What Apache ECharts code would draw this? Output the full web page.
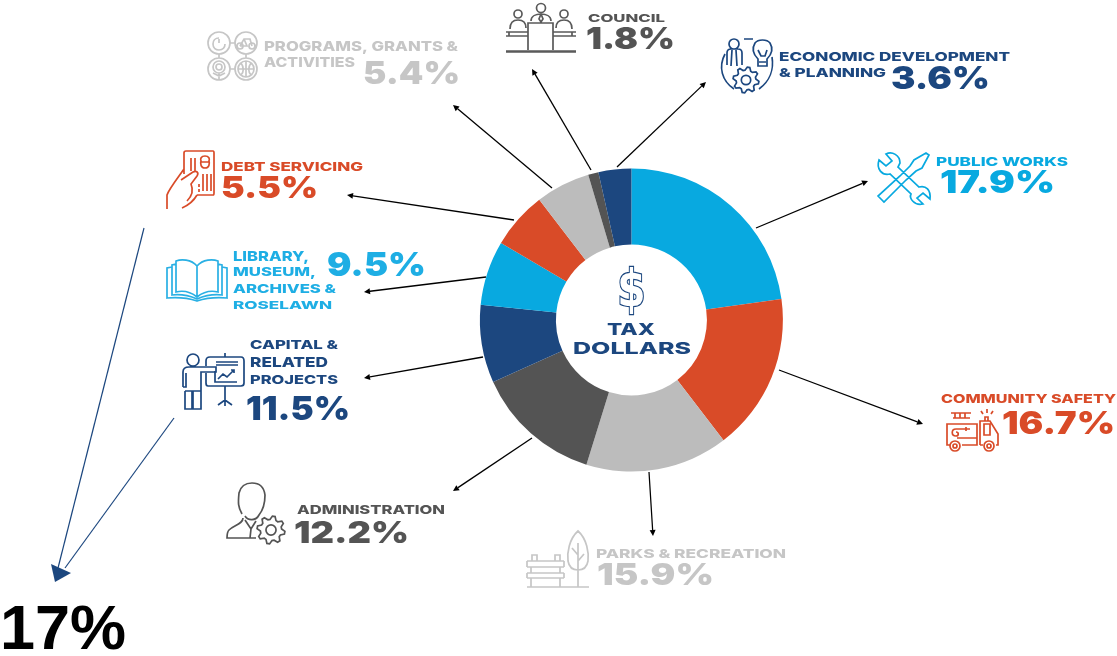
<!DOCTYPE html>
<html>
<head>
<meta charset="utf-8">
<title>Tax dollars</title>
<script src="https://cdn.jsdelivr.net/npm/echarts@6/dist/echarts.min.js"></script>
<style>
  html, body { margin: 0; padding: 0; background: #fff; }
  #main { width: 1117px; height: 656px; }
</style>
</head>
<body>
<div id="main"></div>
<script>
// slices clockwise from 12 o'clock. sliceShares = drawn size read off the ring,
// printedShares = what the labels say (the two do not agree in the picture)
var sliceNames = ['Public Works', 'Community Safety', 'Parks & Recreation', 'Administration', 'Capital & Related Projects',
  'Library, Museum, Archives & Roselawn', 'Debt Servicing', 'Programs, Grants & Activities', 'Council', 'Economic Development & Planning'];
var sliceShares = [22.8, 16.8, 15.2, 13.5, 8.3, 6.9, 6.1, 5.8, 1.1, 3.5];
var printedShares = ['17.9%', '16.7%', '15.9%', '12.2%', '11.5%', '9.5%', '5.5%', '5.4%', '1.8%', '3.6%'];
var labelLines = [
  ['PUBLIC WORKS'],
  ['COMMUNITY SAFETY'],
  ['PARKS & RECREATION'],
  ['ADMINISTRATION'],
  ['CAPITAL &', 'RELATED', 'PROJECTS'],
  ['LIBRARY,', 'MUSEUM,', 'ARCHIVES &', 'ROSELAWN'],
  ['DEBT SERVICING'],
  ['PROGRAMS, GRANTS &', 'ACTIVITIES'],
  ['COUNCIL'],
  ['ECONOMIC DEVELOPMENT', '& PLANNING']
];
var totalLabel = '17%';
var centerLines = ['TAX', 'DOLLARS'];

var BLUE = '#08a9e0', RED = '#d94b28', LIGHT = '#bcbcbc', DARK = '#545454', NAVY = '#1c477f';
var sliceColors = [BLUE, RED, LIGHT, DARK, NAVY, BLUE, RED, LIGHT, DARK, NAVY];
var textColors = [BLUE, RED, '#c6c6c6', DARK, NAVY, '#1eaee4', RED, '#c6c6c6', DARK, NAVY];

// [left, right, top, bottom] of the capitals of each text line
var lineBoxes = [
  [[936, 1068, 157, 166]],
  [[941, 1116, 394, 403]],
  [[596, 786, 549, 558]],
  [[297, 445, 505, 514]],
  [[250, 338, 340, 349], [250, 328, 357, 367], [250, 338, 375, 384]],
  [[233, 309, 251, 261], [233, 316, 267, 276], [233, 336, 284, 293], [233, 332, 301, 309]],
  [[221, 363, 162, 171]],
  [[264, 458, 41, 51], [264, 355, 57, 67]],
  [[588, 665, 14, 22]],
  [[779, 1010, 52, 61], [779, 886, 68, 77]]
];
var pctBoxes = [
  [940, 1055, 170, 193], [1002, 1115, 411, 434], [597, 714, 563, 585], [294, 409, 521, 543], [246, 350, 396, 420],
  [327, 426, 252, 276], [221, 318, 176, 198], [363, 460, 61, 84], [586, 675, 27, 49], [891, 990, 66, 89]
];
// leader arrows, [fromX, fromY, toX, toY], same order as the slices
var arrows = [
  [756, 228, 868, 181], [779, 370, 923, 424], [649, 472, 653, 536], [532, 438, 453, 491], [483, 357, 364, 378],
  [486, 277, 364, 292], [514, 220, 347, 195], [552, 188, 453, 105], [591, 170, 532, 69], [617, 167, 706, 82]
];

function circle(cx, cy, r) {
  return 'M' + (cx + r) + ' ' + cy + 'A' + r + ' ' + r + ' 0 1 1 ' + (cx - r) + ' ' + cy + 'A' + r + ' ' + r + ' 0 1 1 ' + (cx + r) + ' ' + cy + 'Z';
}
function gear(cx, cy, r, teeth) {
  var d = '', n = teeth * 4;
  for (var i = 0; i < n; i++) {
    var rr = (i % 4 < 2) ? r : r * 0.76;
    var a = (i + 0.5) / n * Math.PI * 2;
    d += (i ? 'L' : 'M') + (cx + rr * Math.cos(a)).toFixed(1) + ' ' + (cy + rr * Math.sin(a)).toFixed(1);
  }
  return d + 'Z' + circle(cx, cy, r * 0.36);
}

// line icons, drawn relative to their own top left corner
var icons = [
  { x: 876, y: 152, c: BLUE, d: 'M2 44L8 50L30 28L40 19L46 16L53 3L50 1L38 8L34 14L24 24Z' +
      'M3 8L10 14L16 9L10 2C16 -1 24 3 24 11L22 15L43 35C50 33 55 38 54 47L47 41L41 46L47 52C38 54 33 46 35 42L14 22C6 24 0 17 3 8Z' },
  { x: 946, y: 408, c: RED, d: 'M1 32V16H31V37H16M1 32V37H4' + circle(9, 38, 5) + circle(9, 38, 2) + circle(43, 38, 5) + circle(43, 38, 2) +
      'M34 37V13H44L52 26V37H50M34 37H37M38 16H44V27H38ZM7 10H24M5 5H25M9 5V10M14 5V10M19 5V10' +
      'M11 30H31M24 21H10C5 21 5 28 10 28C13 28 13 24 10 24M20 19V23M39 13V9H42V13M41 1V5M35 3L37 6M47 3L45 6' },
  { x: 527, y: 531, c: '#c6c6c6', d: 'M51 0C42 8 40 22 41 30C42 36 46 39 51 39C56 39 60 36 61 30C62 22 60 8 51 0Z' +
      'M51 12V56M51 24L45 17M51 30L57 23M0 56H62M0 30H37M0 36H37M0 30V36M37 30V36M0 42H37M0 47H37M0 42V47M37 42V47' +
      'M5 24H10V30H5ZM28 24H33V30H28ZM4 47V56M33 47V56M4 36V42M33 36V42' },
  { x: 226, y: 483, c: DARK, d: 'M16 31C12 24 12 20 13 10C15 2 21 0 26 0C33 0 38 4 39 12C39 21 37 27 33 32C30 38 22 38 19 33' +
      'M17 35C17 41 8 42 3 47C1 49 1 52 1 55H30M19 37L25 46L30 38M25 46L24 55' + gear(45, 47, 14, 8) },
  { x: 181, y: 353, c: NAVY, d: circle(12, 7, 6) + 'M2 34V19C2 15 4 14 8 14H35V19H20V38M2 34H5V20M4 38V56H11V38M12 38V56H20V38M4 38H20' +
      'M25 13V8C25 5 26 4 29 4H60C62 4 63 5 63 8V30C63 32 62 33 60 33H27C26 33 25 32 25 30V20M44 0V4M44 33V48M44 47L37 52M44 47L51 52M44 48V53' +
      'M35 9H57M35 12H57M34 18V29H56M37 26L42 21L46 24L53 17M50 17H53V20' },
  { x: 166, y: 256, c: '#2ab0e4', d: 'M31 10C25 3 15 3 10 5V36C18 34 26 37 31 41C36 37 44 34 52 36V5C47 3 37 3 31 10ZM31 10V41' +
      'M10 8L6 9V39C15 38 24 40 31 43C38 40 47 38 56 39V9L52 8M6 11L1 12V42C12 41 22 42 31 45C40 42 50 41 61 42V12L56 11' },
  { x: 167, y: 151, c: RED, d: 'M17 23V2C17 1 18 0 19 0H46C47 0 47 1 47 2V42C47 43 47 44 46 44H30' +
      'M24 7V20M28 7V20M38 5C34 5 33 8 34 10C33 13 34 17 38 17C42 17 43 13 42 10C43 8 42 5 38 5ZM34 11H42M36 23V40M40 23V40M44 23V40M32 33V36M32 38V41' +
      'M0 58V44C2 38 10 28 17 18M14 29L26 21C30 19 32 22 30 25L24 33C27 40 25 45 20 50M30 44C26 51 22 54 15 57' },
  { x: 208, y: 31, c: '#c6c6c6', d: circle(11, 12, 11) + circle(38, 12, 11) + circle(11, 38, 11) + circle(38, 38, 11) +
      'M22 12H27M22 38H27M11 23V27M38 23V27M11 7C7 7 5 10 5 13C5 17 8 19 11 19C15 19 17 16 17 13M11 8V12' +
      circle(32, 15, 3) + circle(44, 15, 3) + 'M32 15L36 8H42L44 15M36 8L39 15H32' +
      circle(11, 36, 3) + circle(11, 36, 6) + 'M11 42V49M5 42L11 45L17 42' +
      circle(38, 38, 8) + 'M30 38H46M38 30V46M33 32C36 36 36 41 33 44M43 32C40 36 40 41 43 44' },
  { x: 506, y: 2, c: '#5a5a5a', d: 'M0 50H70M0 49H70M22 48V21H47V48M0 30H22M47 30H70M3 30V34M66 30V34M0 34H22M47 34H70' +
      circle(12, 12, 4) + circle(35, 6, 4.5) + circle(58, 12, 4) +
      'M4 27C4 20 8 18 12 18C16 18 20 20 20 26M50 26C50 20 54 18 58 18C62 18 66 20 66 27M25 19C25 14 30 12 35 12C40 12 45 14 45 19M35 12L33 17L35 20L37 17Z' },
  { x: 720, y: 39, c: NAVY, d: circle(14, 5, 5) + 'M7 26V14C7 11 9 10 11 10H18C21 10 22 11 22 14V26M12 11L11 27M16 11L17 27M24 0H33' +
      'M38 20C33 15 32 9 35 4C38 0 47 0 50 4C53 9 52 15 47 20V27H38ZM39 23H46M38 11L41 17H45L47 11' +
      'M5 15C-2 28 2 42 14 50M52 18C54 30 50 42 39 50' + gear(26, 41, 13, 8) }
];

var graphics = [];
var measure = document.createElement('canvas').getContext('2d');

// text squeezed/stretched to fill the box the caps occupy in the reference (its typeface is a wide one)
function fitText(str, box, color, font) {
  var size = (box[3] - box[2]) / 0.727;
  var f = font + ' ' + size + 'px Inter';
  measure.font = f;
  graphics.push({
    type: 'text', silent: true,
    x: box[0], y: (box[2] + box[3]) / 2 + size * 0.07,
    scaleX: (box[1] - box[0]) / measure.measureText(str).width,
    style: { text: str, font: f, fill: color, textAlign: 'left', textVerticalAlign: 'middle' }
  });
}

function arrow(a, color) {
  var ang = Math.atan2(a[3] - a[1], a[2] - a[0]);
  var len = 6, wid = 3;
  var bx = a[2] - len * Math.cos(ang), by = a[3] - len * Math.sin(ang);
  graphics.push({ type: 'line', silent: true, shape: { x1: a[0], y1: a[1], x2: bx, y2: by }, style: { stroke: color, lineWidth: 1.3 } });
  graphics.push({
    type: 'polygon', silent: true,
    shape: { points: [[a[2], a[3]], [bx - wid * Math.sin(ang), by + wid * Math.cos(ang)], [bx + wid * Math.sin(ang), by - wid * Math.cos(ang)]] },
    style: { fill: color }
  });
}

for (var i = 0; i < sliceNames.length; i++) {
  for (var j = 0; j < labelLines[i].length; j++) {
    fitText(labelLines[i][j], lineBoxes[i][j], textColors[i], '800');
  }
  fitText(printedShares[i], pctBoxes[i], textColors[i], '900');
  arrow(arrows[i], '#000');
}

// centre of the ring
fitText(centerLines[0], [607, 655, 323, 335], NAVY, '800');
fitText(centerLines[1], [573, 691, 342, 354], NAVY, '800');
graphics.push({
  type: 'text', silent: true, x: 631.5, y: 293,
  scaleX: 0.8,
  style: { text: '$', font: 'bold 51px "DejaVu Sans"', fill: '#fff', stroke: NAVY, lineWidth: 2.5, textAlign: 'center', textVerticalAlign: 'middle' }
});

// the two thin blue lines going to the 17% note
graphics.push({ type: 'line', silent: true, shape: { x1: 144, y1: 228, x2: 58, y2: 568 }, style: { stroke: NAVY, lineWidth: 1.2 } });
graphics.push({ type: 'line', silent: true, shape: { x1: 174, y1: 418, x2: 65, y2: 568 }, style: { stroke: NAVY, lineWidth: 1.2 } });
graphics.push({ type: 'polygon', silent: true, shape: { points: [[51, 564], [71, 573], [55, 582]] }, style: { fill: NAVY } });
graphics.push({
  type: 'text', silent: true, x: 0, y: 663,
  style: { text: totalLabel, font: 'bold 63px "Liberation Sans"', fill: '#000', textAlign: 'left', textVerticalAlign: 'bottom' }
});

var myChart = echarts.init(document.getElementById('main'), null, { renderer: 'canvas' });
var option = {
  animation: false,
  backgroundColor: '#fff',
  tooltip: { show: false },
  series: [
    {
      type: 'pie',
      silent: true,
      center: [631.4, 320],
      radius: [75.5, 151.5],
      startAngle: 90,
      clockwise: true,
      label: { show: false },
      labelLine: { show: false },
      data: sliceNames.map(function (n, i) {
        return { name: n, value: sliceShares[i], itemStyle: { color: sliceColors[i] } };
      })
    },
    {
      type: 'custom',
      coordinateSystem: 'none',
      silent: true,
      data: icons.map(function (ic, i) { return i; }),
      renderItem: function (params) {
        var ic = icons[params.dataIndex];
        return {
          type: 'path',
          x: ic.x, y: ic.y,
          shape: { pathData: ic.d },
          style: { fill: 'none', stroke: ic.c, lineWidth: 1.7 }
        };
      }
    }
  ],
  graphic: { elements: graphics }
};
myChart.setOption(option);
</script>
</body>
</html>
